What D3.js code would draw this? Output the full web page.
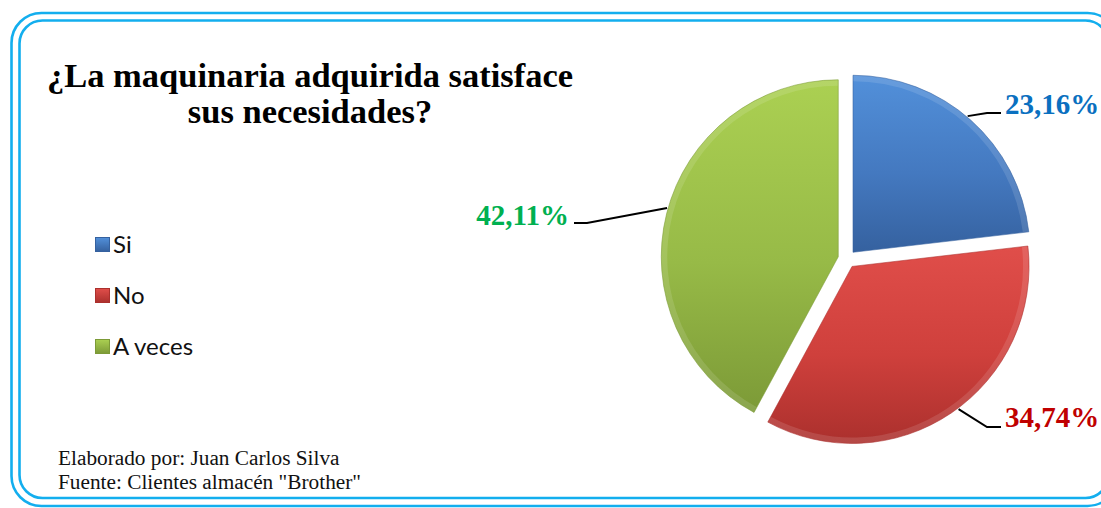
<!DOCTYPE html>
<html>
<head>
<meta charset="utf-8">
<script src="https://cdn.jsdelivr.net/npm/d3@7/dist/d3.min.js"></script>
<style>
  html, body { margin: 0; padding: 0; background: #fff; }
  svg { display: block; }
</style>
</head>
<body>
<svg id="chart" width="1101" height="508"></svg>
<script>
// Survey answers and their shares (percent)
const categories = ["Si", "No", "A veces"];
const shares = [23.16, 34.74, 42.11];
const labelTexts = ["23,16%", "34,74%", "42,11%"];

const titleLines = ["¿La maquinaria adquirida satisface", "sus necesidades?"];
const footerLines = ["Elaborado por: Juan Carlos Silva", "Fuente: Clientes almacén \"Brother\""];

const sliceColors = [
  { light: "#5290da", mid: "#4479c0", dark: "#35619f", label: "#0a70c0" },
  { light: "#e04e4a", mid: "#cf403c", dark: "#ab302d", label: "#c00000" },
  { light: "#abd052", mid: "#97ba47", dark: "#7c9a37", label: "#00b050" }
];

const svg = d3.select("#chart");
const defs = svg.append("defs");

// Frame: double light-blue rounded border (runs past the right edge)
const frame = svg.append("g").attr("fill", "none").attr("stroke", "#13aeee").attr("stroke-width", 2.6);
frame.append("rect").attr("x", 11.5).attr("y", 13).attr("width", 1106).attr("height", 493).attr("rx", 30);
frame.append("rect").attr("x", 19.5).attr("y", 20.5).attr("width", 1089).attr("height", 477.5).attr("rx", 23);

// Title
const title = svg.append("text")
  .attr("font-family", "'Liberation Serif', 'Times New Roman', serif")
  .attr("font-weight", "bold")
  .attr("font-size", 34.5)
  .attr("text-anchor", "middle")
  .attr("fill", "#000");
title.selectAll("tspan").data(titleLines).join("tspan")
  .attr("x", 310)
  .attr("y", (d, i) => 87 + i * 36)
  .text(d => d);

// Gradients for slices (shaded top to bottom)
sliceColors.forEach((c, i) => {
  const g = defs.append("linearGradient").attr("id", "fill" + i)
    .attr("x1", 0).attr("y1", 0).attr("x2", 0).attr("y2", 1);
  g.append("stop").attr("offset", "0%").attr("stop-color", c.light);
  g.append("stop").attr("offset", "55%").attr("stop-color", c.mid);
  g.append("stop").attr("offset", "100%").attr("stop-color", c.dark);
});

// Pie
const cx = 847, cy = 259, radius = 177, explode = 9;
const pie = d3.pie().sort(null).value(d => d)(shares);
const arc = d3.arc().innerRadius(0).outerRadius(radius);
const rim = d3.arc().innerRadius(radius - 6).outerRadius(radius);

const pieG = svg.append("g").attr("transform", `translate(${cx},${cy})`);
const slices = pieG.selectAll("g.slice").data(pie).join("g")
  .attr("class", "slice")
  .attr("transform", d => {
    const a = (d.startAngle + d.endAngle) / 2;
    return `translate(${Math.sin(a) * explode},${-Math.cos(a) * explode})`;
  });

slices.append("path")
  .attr("d", arc)
  .attr("fill", (d, i) => `url(#fill${i})`);
// bevel: soft light rim along the arc
slices.append("path")
  .attr("d", rim)
  .attr("fill", "#ffffff")
  .attr("opacity", 0.12);
slices.append("path")
  .attr("d", arc)
  .attr("fill", "none")
  .attr("stroke", (d, i) => sliceColors[i].dark)
  .attr("stroke-opacity", 0.55)
  .attr("stroke-width", 1);

// Data labels with leader lines
const labelPos = [
  { tx: 1005, ty: 114, anchor: "start", elbow: [987, 113], end: [1001, 113] },
  { tx: 1005, ty: 427, anchor: "start", elbow: [987, 427], end: [1001, 427] },
  { tx: 569, ty: 225, anchor: "end", elbow: [587, 223], end: [574, 223] }
];
const leaderAngle = [0.70, 2.50, 4.99];

pie.forEach((d, i) => {
  const a = (d.startAngle + d.endAngle) / 2;
  const ox = Math.sin(a) * explode, oy = -Math.cos(a) * explode;
  const la = leaderAngle[i];
  const px = cx + ox + Math.sin(la) * (radius + 1);
  const py = cy + oy - Math.cos(la) * (radius + 1);
  const p = labelPos[i];
  svg.append("polyline")
    .attr("points", [[px, py], p.elbow, p.end].map(q => q.join(",")).join(" "))
    .attr("fill", "none")
    .attr("stroke", "#000")
    .attr("stroke-width", 2);
  svg.append("text")
    .attr("x", p.tx).attr("y", p.ty)
    .attr("text-anchor", p.anchor)
    .attr("font-family", "'Liberation Serif', 'Times New Roman', serif")
    .attr("font-weight", "bold")
    .attr("font-size", 29)
    .attr("fill", sliceColors[i].label)
    .text(labelTexts[i]);
});

// Legend
const legendY = d3.scalePoint().domain(categories).range([245, 347]);
const legend = svg.append("g");
categories.forEach((c, i) => {
  const y = legendY(c);
  const col = sliceColors[i];
  const lg = defs.append("linearGradient").attr("id", "leg" + i)
    .attr("x1", 0).attr("y1", 0).attr("x2", 0).attr("y2", 1);
  lg.append("stop").attr("offset", "0%").attr("stop-color", col.light);
  lg.append("stop").attr("offset", "100%").attr("stop-color", col.dark);
  legend.append("rect")
    .attr("x", 95.5).attr("y", y - 7.5).attr("width", 14).attr("height", 14)
    .attr("fill", `url(#leg${i})`)
    .attr("stroke", col.dark).attr("stroke-width", 1);
  legend.append("text")
    .attr("x", 113).attr("y", y + 8)
    .attr("font-family", "Lato, 'Open Sans', sans-serif")
    .attr("font-size", 24)
    .attr("fill", "#111")
    .text(c);
});

// Source notes
const foot = svg.append("text")
  .attr("font-family", "'Liberation Serif', 'Times New Roman', serif")
  .attr("font-size", 21.3)
  .attr("fill", "#111");
foot.selectAll("tspan").data(footerLines).join("tspan")
  .attr("x", 58)
  .attr("y", (d, i) => 465 + i * 23.5)
  .text(d => d);
</script>
</body>
</html>
